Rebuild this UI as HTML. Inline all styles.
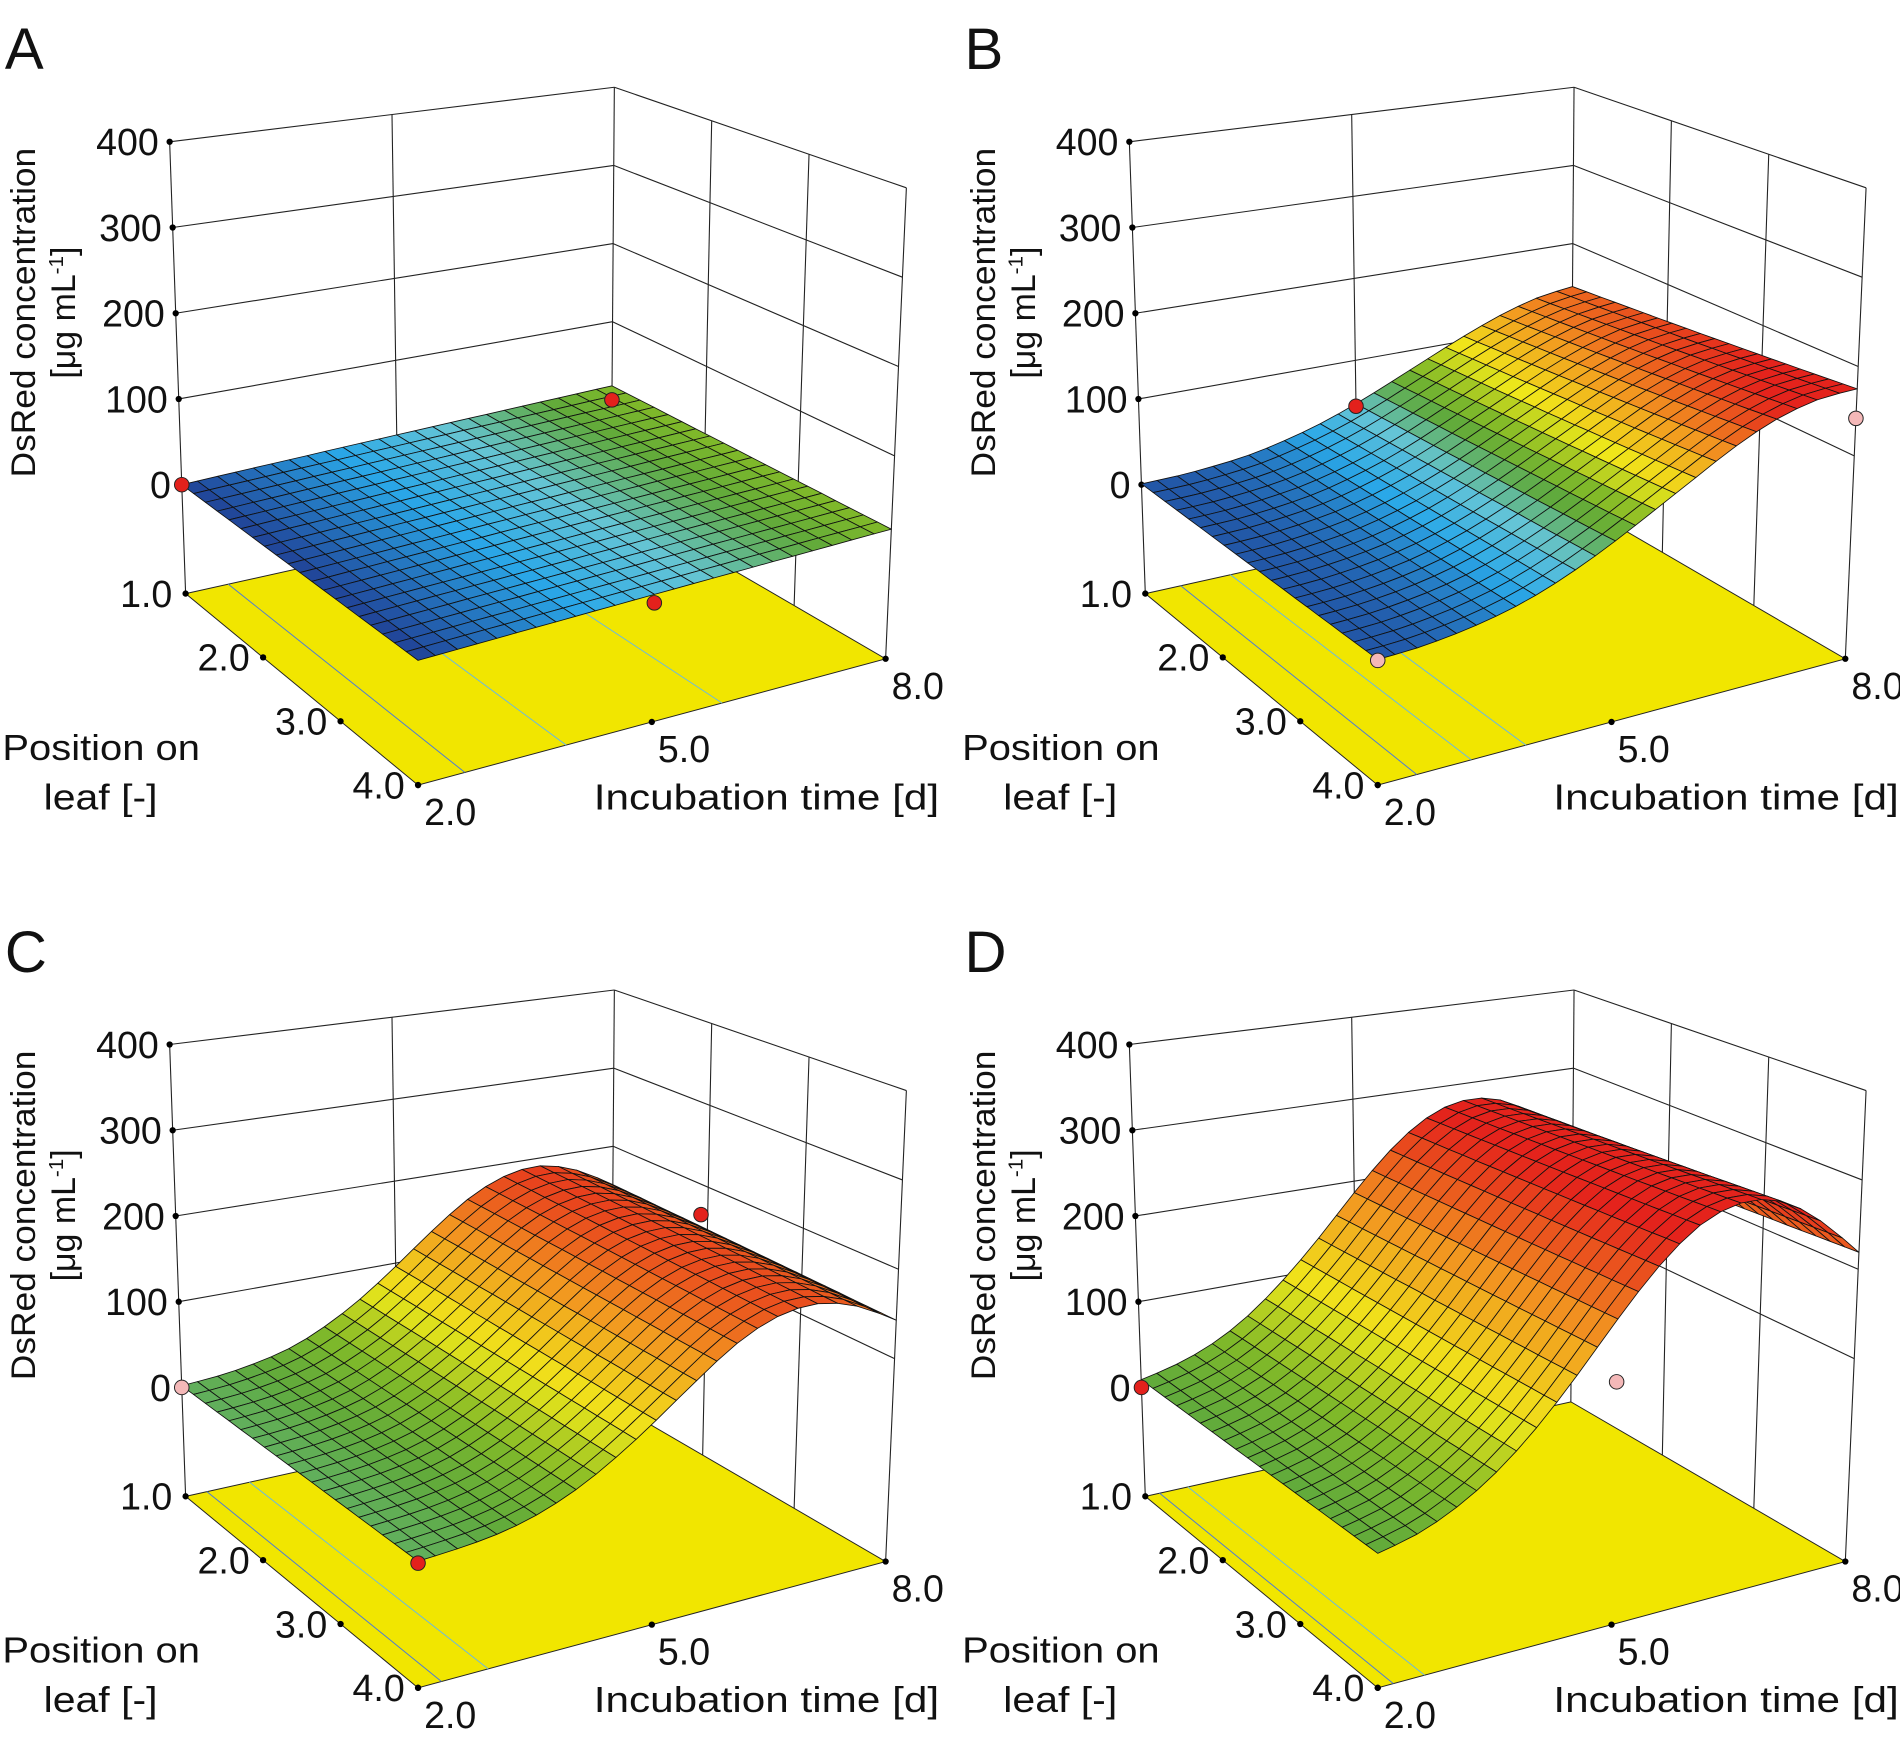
<!DOCTYPE html>
<html><head><meta charset="utf-8"><style>
html,body{margin:0;padding:0;background:#fff}
svg{display:block}
text{font-family:"Liberation Sans",sans-serif;fill:#111}
</style></head><body>
<svg id="fig" xmlns="http://www.w3.org/2000/svg" width="1900" height="1742" viewBox="0 0 1568 1437.6"></svg>
<script>
// ---- data ----
const times = [2,2.5,3,3.5,4,4.5,5,5.5,6,6.5,7,7.5,8];
const aPos1 = [0,1.5,3,4.5,6,7.5,9,10.5,12,13.5,15,16.5,18];
const aPos4 = [0,1.5,3,4.5,6,7.5,9,10.5,12,13.5,15,16.5,18];
const bPos1 = [1,2,5,10,19,31,47,66,86,106,124,138,145];
const bPos4 = [1,3,8,16,28,45,66,90,115,140,160,172,175];
const cPos1 = [2,5,11,21,39,64,96,131,163,184,190,177,151];
const cPos4 = [2,5,10,20,37,61,91,124,155,175,180,168,143];
const dPos1 = [9,19,35,60,95,138,186,231,264,279,273,246,205];
const dPos4 = [10,20,38,65,102,148,199,247,283,299,293,263,219];
const zTickVals = [0,100,200,300,400];
const zTickLabels = ['0','100','200','300','400'];
const posTickVals = [1,2,3,4];
const posTickLabels = ['1.0','2.0','3.0','4.0'];
const timeTickVals = [2,5,8];
const timeTickLabels = ['2.0','5.0','8.0'];
// design points: [position, time, value, type]
const aPoints = [[1,2,0,'r'],[1,8,0,'r'],[4,5,0,'r']];
const bPoints = [[1,5,44,'r'],[4,8,142,'p'],[4,2,0,'p']];
const cPoints = [[1,2,0,'p'],[1.93,8,163,'r'],[4,2,0,'r']];
const dPoints = [[1,2,0,'r'],[4,5,132,'p']];
// floor contour times
const aContours = [2.6,3.9,5.9];
const bContours = [2.5,3.2,3.9];
const cContours = [2.3,2.9];
const dContours = [2.2,2.6];

const panels = [
 {id:'a',letter:'A',dx:0,dy:0,r1:aPos1,r4:aPos4,cmin:0,cmax:36,pts:aPoints,cont:aContours},
 {id:'b',letter:'B',dx:792,dy:0,r1:bPos1,r4:bPos4,cmin:-5,cmax:165,pts:bPoints,cont:bContours},
 {id:'c',letter:'C',dx:0,dy:745,r1:cPos1,r4:cPos4,cmin:-130,cmax:205,pts:cPoints,cont:cContours},
 {id:'d',letter:'D',dx:792,dy:745,r1:dPos1,r4:dPos4,cmin:-180,cmax:270,pts:dPoints,cont:dContours}
];

const NS='http://www.w3.org/2000/svg';
const svg=document.getElementById('fig');
function mk(tag,attrs,parent){const e=document.createElementNS(NS,tag);for(const k in attrs)e.setAttribute(k,attrs[k]);(parent||svg).appendChild(e);return e;}

const C={LB:[150,400,.7075,-.025],BK:[505,330,.645,.005],RT:[735,450,.7375,.0325],FR:[345,545,.81,0]};
const ZFLOOR=-127;
function proj(pos,t,z,P){
 const a=(pos-1)/3,b=(t-2)/6;
 const w=[(1-a)*(1-b),(1-a)*b,a*b,a*(1-b)];
 const cs=[C.LB,C.BK,C.RT,C.FR];
 let x0=0,y0=0,s=0,xs=0;
 for(let i=0;i<4;i++){x0+=w[i]*cs[i][0];y0+=w[i]*cs[i][1];s+=w[i]*cs[i][2];xs+=w[i]*cs[i][3];}
 return [x0+xs*z+P.dx, y0-s*z+P.dy];
}
const stops=[[0,[32,66,150]],[0.18,[42,168,232]],[0.3,[100,196,214]],[0.42,[96,170,60]],[0.5,[130,186,40]],[0.62,[240,232,26]],[0.8,[242,150,32]],[1,[228,35,28]]];
function cmap(v){v=Math.max(0,Math.min(1,v));for(let i=1;i<stops.length;i++){if(v<=stops[i][0]){const [a,ca]=stops[i-1],[b,cb]=stops[i];const f=(v-a)/(b-a);return 'rgb('+ca.map((c,k)=>Math.round(c+(cb[k]-c)*f)).join(',')+')';}}return 'rgb(228,35,28)';}
function fine(arr){const out=[];for(let i=0;i<arr.length-1;i++){const p0=arr[i-1]!==undefined?arr[i-1]:arr[i],p1=arr[i],p2=arr[i+1],p3=arr[i+2]!==undefined?arr[i+2]:arr[i+1];out.push(p1);out.push(0.5*(2*p1+(-p0+p2)*0.5+(2*p0-5*p1+4*p2-p3)*0.25+(-p0+3*p1-3*p2+p3)*0.125));}out.push(arr[arr.length-1]);return out;}
function pts(list){return list.map(p=>p[0].toFixed(1)+','+p[1].toFixed(1)).join(' ');}

panels.forEach(P=>{
 const g=mk('g',{});
 
 
 const L=mk('text',{x:4+P.dx,y:57+P.dy,'font-size':48},g);L.textContent=P.letter;
 
 
 const fl=mk('polygon',{points:pts([proj(1,2,ZFLOOR,P),proj(1,8,ZFLOOR,P),proj(4,8,ZFLOOR,P),proj(4,2,ZFLOOR,P)]),fill:'#f1e600',stroke:'#222','stroke-width':0.8},g);
 
 
 P.cont.forEach((t,i)=>{const a=proj(1,t,ZFLOOR,P),b=proj(4,t,ZFLOOR,P);
  const l=mk('line',{x1:a[0],y1:a[1],x2:b[0],y2:b[1],stroke:i==0?'#4a7ad8':'#6ab8e0','stroke-width':0.8},g);
  
  });
 const wl=[];
 zTickVals.slice(1).forEach(z=>{wl.push([proj(1,2,z,P),proj(1,8,z,P)]);wl.push([proj(1,8,z,P),proj(4,8,z,P)]);});
 wl.push([proj(1,2,ZFLOOR,P),proj(1,2,400,P)]);
 wl.push([proj(1,5,ZFLOOR,P),proj(1,5,400,P)]);
 wl.push([proj(1,8,ZFLOOR,P),proj(1,8,400,P)]);
 wl.push([proj(2,8,ZFLOOR,P),proj(2,8,400,P)]);
 wl.push([proj(3,8,ZFLOOR,P),proj(3,8,400,P)]);
 wl.push([proj(4,8,ZFLOOR,P),proj(4,8,400,P)]);
 wl.forEach(s=>{const l=mk('line',{x1:s[0][0],y1:s[0][1],x2:s[1][0],y2:s[1][1],stroke:'#222','stroke-width':0.9},g);
  
  });
 zTickVals.forEach((z,i)=>{const p=proj(1,2,z,P);
  const d=mk('circle',{cx:p[0],cy:p[1],r:2.6,fill:'#000'},g);
  
  
  const t=mk('text',{x:p[0]-9,y:p[1]+11,'font-size':31,'text-anchor':'end'},g);t.textContent=zTickLabels[i];
  
  });
 posTickVals.forEach((v,i)=>{const p=proj(v,2,ZFLOOR,P);
  const d=mk('circle',{cx:p[0],cy:p[1],r:2.6,fill:'#000'},g);
  
  
  const t=mk('text',{x:p[0]-11,y:p[1]+11,'font-size':31,'text-anchor':'end'},g);t.textContent=posTickLabels[i];
  
  });
 timeTickVals.forEach((v,i)=>{const p=proj(4,v,ZFLOOR,P);
  const d=mk('circle',{cx:p[0],cy:p[1],r:2.6,fill:'#000'},g);
  
  
  const t=mk('text',{x:p[0]+5,y:p[1]+33,'font-size':31},g);t.textContent=timeTickLabels[i];
  
  });
 const t1=mk('text',{x:2+P.dx,y:627+P.dy,'font-size':30,textLength:163,lengthAdjust:'spacingAndGlyphs'},g);t1.textContent='Position on';
 
 
 const t2=mk('text',{x:36+P.dx,y:668+P.dy,'font-size':30,textLength:94,lengthAdjust:'spacingAndGlyphs'},g);t2.textContent='leaf [-]';
 
 
 const t3=mk('text',{x:490+P.dx,y:668+P.dy,'font-size':30,textLength:285,lengthAdjust:'spacingAndGlyphs'},g);t3.textContent='Incubation time [d]';
 
 
 const t4=mk('text',{x:0,y:0,'font-size':28,'text-anchor':'middle',textLength:272,lengthAdjust:'spacingAndGlyphs',transform:'translate('+(29+P.dx)+','+(258+P.dy)+') rotate(-90)'},g);t4.textContent='DsRed concentration';
 
 
 const t5=mk('text',{x:0,y:0,'font-size':28,'text-anchor':'middle',transform:'translate('+(62+P.dx)+','+(258+P.dy)+') rotate(-90)'},g);
 t5.innerHTML='[μg mL<tspan dy="-10" font-size="17">-1</tspan><tspan dy="10">]</tspan>';
 
 
 const f1=fine(P.r1),f4=fine(P.r4),tf=fine(times);
 const NA=20,NB=tf.length-1;
 const Z=(i,j)=>f1[j]*(1-i/NA)+f4[j]*(i/NA);
 const cells=[];
 for(let i=0;i<NA;i++)for(let j=0;j<NB;j++)cells.push([i,j,j/NB-i/NA]);
 cells.sort((a,b)=>b[2]-a[2]);
 const sg=mk('g',{},g);
 
 
 cells.forEach(([i,j])=>{
  const pa=1+3*i/NA,pb=1+3*(i+1)/NA;
  const q=[proj(pa,tf[j],Z(i,j),P),proj(pa,tf[j+1],Z(i,j+1),P),proj(pb,tf[j+1],Z(i+1,j+1),P),proj(pb,tf[j],Z(i+1,j),P)];
  const zm=(Z(i,j)+Z(i,j+1)+Z(i+1,j+1)+Z(i+1,j))/4;
  const c=mk('polygon',{points:pts(q),fill:cmap((zm-P.cmin)/(P.cmax-P.cmin)),stroke:'#111','stroke-width':0.7,'stroke-linejoin':'round'},sg);
  
  
 });
 P.pts.forEach(d=>{const p=proj(d[0],d[1],d[2],P);
  const c=mk('circle',{cx:p[0],cy:p[1],r:6,fill:d[3]=='r'?'#e3211c':'#f4b8b8',stroke:'#222','stroke-width':0.8},g);
  
  });
});
</script>
</body></html>
